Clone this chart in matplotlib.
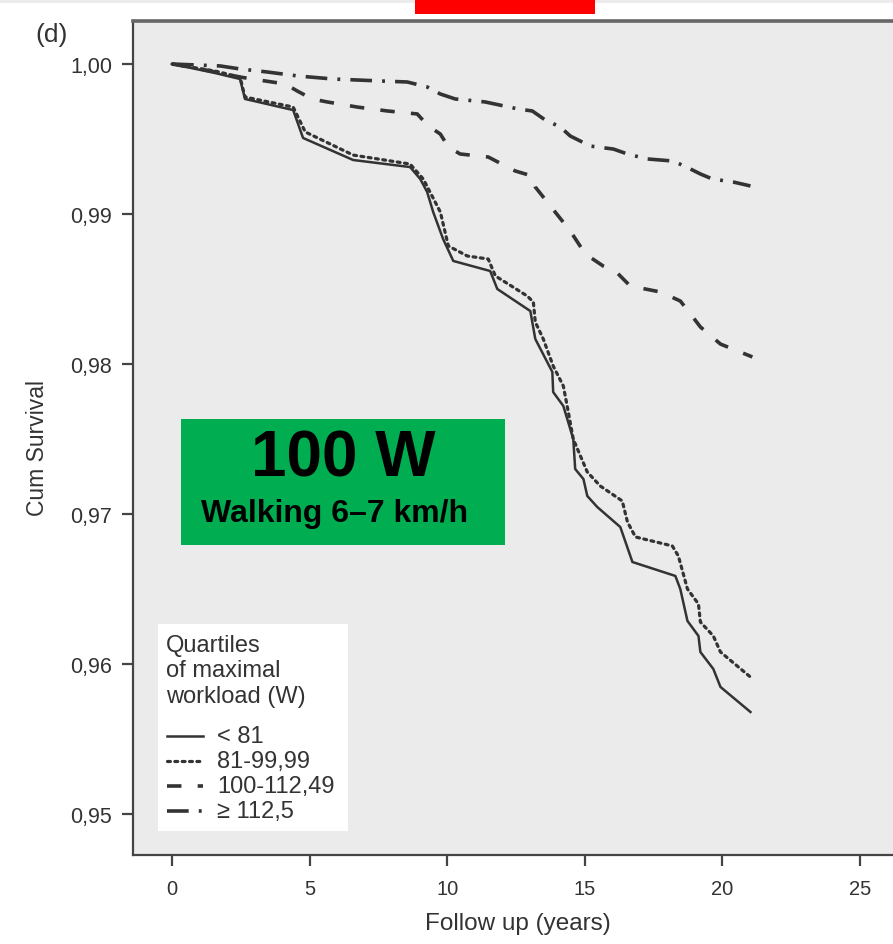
import matplotlib
matplotlib.use("Agg")
import matplotlib.pyplot as plt
from matplotlib.patches import Rectangle
from matplotlib.lines import Line2D

plt.rcParams['font.family'] = ['Liberation Sans', 'DejaVu Sans']

# ---------------- data ----------------
x_lt81 = [0, 1.56, 2.47, 2.65, 4.40, 4.76, 6.58, 8.65, 9.02, 9.27, 9.49, 9.85, 10.22,
          11.56, 11.82, 13.02, 13.20, 13.82, 13.85, 14.22, 14.58, 14.65, 14.95, 15.09,
          15.45, 16.29, 16.73, 18.29, 18.47, 18.73, 19.13, 19.20, 19.67, 19.93, 21.02]
y_lt81 = [1.0, 0.9994, 0.9990, 0.99767, 0.99693, 0.99507, 0.99360, 0.99313, 0.99233,
          0.99147, 0.99013, 0.98833, 0.98687, 0.98620, 0.98500, 0.98353, 0.98167,
          0.97947, 0.97813, 0.97720, 0.97500, 0.97300, 0.97233, 0.97120, 0.97047,
          0.96913, 0.96680, 0.96587, 0.96500, 0.96287, 0.96187, 0.96080, 0.95967,
          0.95847, 0.95680]

x_81_100 = [0, 1.56, 2.47, 2.65, 4.40, 4.84, 6.58, 8.65, 9.13, 9.75, 10.04, 10.73, 11.49,
            11.75, 12.91, 13.13, 13.20, 13.49, 13.85, 14.22, 14.40, 14.58, 14.84, 15.09,
            15.56, 16.36, 16.55, 16.84, 18.18, 18.40, 18.73, 19.13, 19.20, 19.67, 19.93,
            21.02]
y_81_100 = [1.0, 0.99953, 0.99913, 0.99780, 0.99713, 0.99547, 0.99393, 0.99333, 0.99233,
            0.99013, 0.98787, 0.98720, 0.98700, 0.98587, 0.98453, 0.98413, 0.98280,
            0.98167, 0.97987, 0.97853, 0.97680, 0.97500, 0.97387, 0.97280, 0.97187,
            0.97087, 0.96947, 0.96847, 0.96787, 0.96720, 0.96500, 0.96400, 0.96280,
            0.96187, 0.96080, 0.95913]

x_100_112 = [0, 1.02, 2.47, 3.38, 4.11, 4.55, 5.09, 5.64, 6.73, 7.82, 8.91, 9.31, 9.75,
             10.04, 10.47, 11.49, 12.47, 13.09, 13.20, 13.75, 14.47, 15.02, 15.67, 16.11,
             16.65, 17.75, 18.47, 18.76, 19.20, 19.93, 21.09]
y_100_112 = [1.0, 0.99967, 0.99913, 0.99887, 0.99867, 0.99820, 0.99767, 0.99747, 0.99713,
             0.99687, 0.99667, 0.99587, 0.99533, 0.99447, 0.99400, 0.99380, 0.99287,
             0.99253, 0.99180, 0.99053, 0.98887, 0.98733, 0.98653, 0.98620, 0.98520,
             0.98480, 0.98420, 0.98353, 0.98247, 0.98133, 0.98047]

x_ge112 = [0, 1.75, 2.47, 3.45, 4.58, 5.85, 7.56, 8.55, 9.27, 9.75, 10.29, 11.38, 12.58,
           13.09, 13.56, 14.11, 14.47, 15.20, 16.04, 16.55, 17.27, 18.22, 18.84, 19.20,
           19.64, 20.40, 21.02]
y_ge112 = [1.0, 0.99987, 0.99967, 0.99947, 0.99920, 0.99900, 0.99887, 0.99880, 0.99847,
           0.99800, 0.99767, 0.99747, 0.99700, 0.99687, 0.99627, 0.99580, 0.99520,
           0.99453, 0.99433, 0.99400, 0.99367, 0.99353, 0.99300, 0.99267, 0.99233,
           0.99213, 0.99187]

series_labels = ['< 81', '81-99,99', '100-112,49', '\u2265 112,5']
x_ticks = [0, 5, 10, 15, 20, 25]
y_ticks = [0.95, 0.96, 0.97, 0.98, 0.99, 1.00]
y_tick_labels = ['0,95', '0,96', '0,97', '0,98', '0,99', '1,00']

# ---------------- figure ----------------
W, H = 893, 945
fig = plt.figure(figsize=(W / 100, H / 100), dpi=100)
fig.patch.set_facecolor('white')

def fx(px):
    return px / W

def fy(py):
    return 1 - py / H

# top light strip and red rectangle
fig.patches.append(Rectangle((0, fy(4)), 1, 4 / H, transform=fig.transFigure,
                             facecolor='#ececec', edgecolor='none', zorder=0))
fig.patches.append(Rectangle((fx(415), fy(15)), 180 / W, 15 / H, transform=fig.transFigure,
                             facecolor='#ff0000', edgecolor='none', zorder=5))

ax_left, ax_right, ax_top, ax_bottom = 133, 893, 22, 856
ax = fig.add_axes([fx(ax_left), fy(ax_bottom), (ax_right - ax_left) / W,
                   (ax_bottom - ax_top) / H])
ax.set_facecolor('#ebebeb')

ink = '#333333'
ax.plot(x_lt81, y_lt81, color=ink, lw=1.8, solid_joinstyle='round')
ax.plot(x_81_100, y_81_100, color=ink, lw=2.3, linestyle=(0, (0.9, 1.4)),
        dash_capstyle='round')
ax.plot(x_100_112, y_100_112, color=ink, lw=2.6, linestyle=(0, (4.0, 4.5)))
ax.plot(x_ge112, y_ge112, color=ink, lw=2.6, linestyle=(0, (6.0, 2.8, 0.8, 2.8)))

ax.set_xlim(-1.42, 26.2)
ax.set_ylim(0.947267, 1.002867)
ax.set_xticks(x_ticks)
ax.set_xticklabels([str(t) for t in x_ticks])
ax.set_yticks(y_ticks)
ax.set_yticklabels(y_tick_labels)
ax.tick_params(axis='both', direction='out', length=8, width=1.6, color='#444444',
               labelcolor='#333333', pad=6)
ax.tick_params(axis='x', labelsize=14.5, pad=9)
ax.tick_params(axis='y', labelsize=15.5, pad=7)

for s in ['left', 'bottom']:
    ax.spines[s].set_color('#444444')
    ax.spines[s].set_linewidth(1.6)
ax.spines['top'].set_color('#666666')
ax.spines['top'].set_linewidth(2.6)
ax.spines['right'].set_visible(False)

fig.text(fx(518), fy(924), 'Follow up (years)', fontsize=17.5, color='#333333',
         ha='center', va='center')
fig.text(fx(37), fy(448), 'Cum Survival', fontsize=16.5, color='#333333',
         ha='center', va='center', rotation=90)
fig.text(fx(52), fy(35), '(d)', fontsize=19, color='#333333', ha='center', va='center')

# legend box (manual)
fig.patches.append(Rectangle((fx(158), fy(832)), 190 / W, 207 / H, transform=fig.transFigure,
                             facecolor='white', edgecolor='none', zorder=3))
for i, t in enumerate(['Quartiles', 'of maximal', 'workload (W)']):
    fig.text(fx(166), fy(646 + i * 25.5), t, fontsize=17, color='#333333',
             ha='left', va='center', zorder=4)
styles = [dict(lw=1.8, linestyle='-'),
          dict(lw=2.3, linestyle=(0, (0.9, 1.4)), dash_capstyle='round'),
          dict(lw=2.6, linestyle=(0, (4.0, 4.5))),
          dict(lw=2.6, linestyle=(0, (6.0, 2.8, 0.8, 2.8)))]
for i, (lab, st) in enumerate(zip(series_labels, styles)):
    yy = 737 + i * 25
    fig.lines.append(Line2D([fx(167), fx(203)], [fy(yy), fy(yy)], transform=fig.transFigure,
                            color=ink, zorder=4, **st))
    fig.text(fx(217), fy(yy), lab, fontsize=17, color='#333333', ha='left', va='center',
             zorder=4)

# green annotation box
fig.patches.append(Rectangle((fx(181), fy(546)), 324 / W, 126 / H, transform=fig.transFigure,
                             facecolor='#00ad50', edgecolor='none', zorder=6))
fig.text(fx(343), fy(460), '100 W', fontsize=46, fontweight='bold', color='black',
         ha='center', va='center', zorder=7)
fig.text(fx(335), fy(514), 'Walking 6\u20137 km/h', fontsize=23, fontweight='bold',
         color='black', ha='center', va='center', zorder=7)

fig.savefig('out.png', dpi=100)
